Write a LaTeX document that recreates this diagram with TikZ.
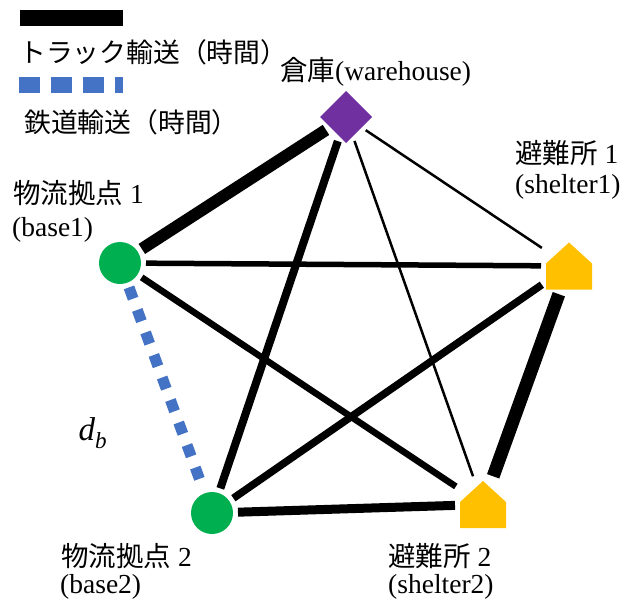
\documentclass[tikz,border=0pt]{standalone}
\usepackage{fontspec}
\setmainfont{Liberation Serif}
\newfontfamily\jp{Noto Sans CJK JP}
\usetikzlibrary{shapes.geometric}
\definecolor{whpurple}{HTML}{7030A0}
\definecolor{bgreen}{HTML}{00B050}
\definecolor{syellow}{HTML}{FFC000}
\definecolor{rblue}{HTML}{4472C4}
\begin{document}
\begin{tikzpicture}[x=1pt,y=-1pt,
 lbl/.style={anchor=base west, font=\fontsize{27.5}{32}\selectfont, inner sep=0pt},
 leg/.style={anchor=base west, font=\fontsize{26.8}{30}\selectfont\jp, inner sep=0pt},
 edge/.style={line cap=butt, shorten <=5pt, shorten >=5pt},
 base/.style={circle, fill=bgreen, minimum size=42pt, inner sep=0pt, outer sep=0pt},
 shelter/.style={rectangle, minimum width=46pt, minimum height=47pt, inner sep=0pt, outer sep=0pt},
 ware/.style={diamond, fill=whpurple, minimum width=52pt, minimum height=52pt, inner sep=0pt, outer sep=0pt}]
\useasboundingbox (0,0) rectangle (621,600);
% nodes
\node[ware] (wh) at (346,117) {};
\node[base] (b1) at (120,263) {};
\node[base] (b2) at (212,513) {};
\node[shelter] (s1) at (569,266) {};
\node[shelter] (s2) at (483,504.5) {};
\fill[syellow] (s1.south west) -- (s1.south east) -- ([yshift=-21pt]s1.north east) -- (s1.north) -- ([yshift=-21pt]s1.north west) -- cycle;
\fill[syellow] (s2.south west) -- (s2.south east) -- ([yshift=-21pt]s2.north east) -- (s2.north) -- ([yshift=-21pt]s2.north west) -- cycle;
% edges
\draw[edge, line width=12pt] (b1) -- (wh);
\draw[edge, line width=8pt] (b2) -- (wh);
\draw[edge, line width=2.5pt] (wh) -- (s1);
\draw[edge, line width=2.5pt] (wh) -- (s2);
\draw[edge, line width=5.5pt] (b1) -- (s1);
\draw[edge, line width=6.5pt] (b1) -- (s2);
\draw[edge, line width=7.5pt] (b2) -- (s1);
\draw[edge, line width=9pt] (b2) -- (s2);
\draw[edge, line width=13pt] (s1) -- (s2);
\draw[edge, rblue, line width=11pt, dash pattern=on 12pt off 12pt] (b1) -- (b2);
% legend
\coordinate (lt1) at (20,18);
\coordinate (lt2) at (123,18);
\draw[line width=16pt] (lt1) -- (lt2);
\coordinate (lr1) at (19,85);
\coordinate (lr2) at (123,85);
\draw[rblue, line width=16pt, dash pattern=on 21pt off 11pt] (lr1) -- (lr2);
\node[leg] (lg1) at (19,62) {トラック輸送（時間）};
\node[leg] (lg2) at (24,132) {鉄道輸送（時間）};
% labels
\node[lbl] (lwh) at (280,80) {{\jp 倉庫}(warehouse)};
\node[lbl] (ls1a) at (515,163) {{\jp 避難所} 1};
\node[lbl] (ls1b) at (515,193) {(shelter1)};
\node[lbl] (lb1a) at (13,203) {{\jp 物流拠点} 1};
\node[lbl] (lb1b) at (12,236) {(base1)};
\node[lbl] (lb2a) at (61,566) {{\jp 物流拠点} 2};
\node[lbl] (lb2b) at (60,593) {(base2)};
\node[lbl] (ls2a) at (388,566) {{\jp 避難所} 2};
\node[lbl] (ls2b) at (388,593) {(shelter2)};
\node[inner sep=0pt] (db) at (93,433) {\fontsize{33}{36}\selectfont\itshape d\textsubscript{b}};
\end{tikzpicture}
\end{document}
